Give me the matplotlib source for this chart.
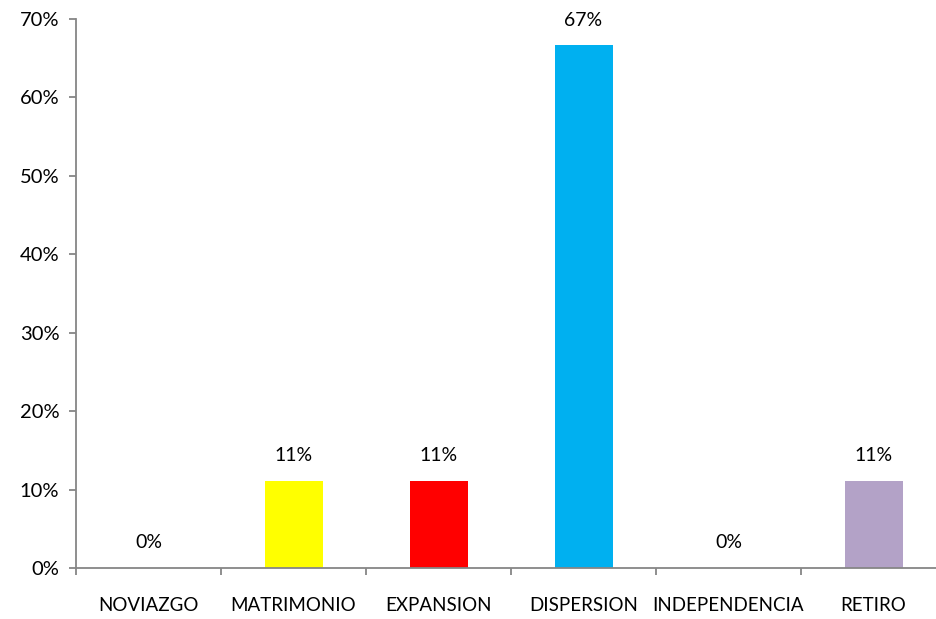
import matplotlib
matplotlib.use("Agg")
import matplotlib.pyplot as plt
import numpy as np

categories = ["NOVIAZGO", "MATRIMONIO", "EXPANSION", "DISPERSION", "INDEPENDENCIA", "RETIRO"]
shares = [0.0, 1/9, 1/9, 6/9, 0.0, 1/9]
colors = ["#4F81BD", "#FFFF00", "#FF0000", "#00B0F0", "#8064A2", "#B3A2C7"]
y_ticks = [0, 0.1, 0.2, 0.3, 0.4, 0.5, 0.6, 0.7]

plt.rcParams["font.family"] = ["Lato", "DejaVu Sans"]

fig = plt.figure(figsize=(9.36, 6.19), dpi=100)
ax = fig.add_axes([76/936, 1 - 568/619, (946 - 76)/936, (568 - 19)/619])

x = np.arange(len(categories))
ax.bar(x, shares, width=0.4, color=colors, zorder=2)

for xi, v in zip(x, shares):
    ax.annotate(f"{v*100:.0f}%", (xi, v), xytext=(0, 18), textcoords="offset points",
                ha="center", va="center", fontsize=14, color="black")

ax.set_xlim(-0.5, len(categories) - 0.5)
ax.set_ylim(0, 0.7)
ax.set_yticks(y_ticks)
ax.set_yticklabels([f"{t*100:.0f}%" for t in y_ticks], fontsize=14.5)

ax.set_xticks(x)
ax.set_xticklabels(categories, fontsize=13.5)
ax.set_xticks(np.arange(len(categories) + 1) - 0.5, minor=True)
ax.tick_params(axis="x", which="major", length=0, pad=21)
ax.tick_params(axis="x", which="minor", length=5, width=1.3, color="#868686")
ax.tick_params(axis="y", length=5, width=1.3, color="#868686", pad=7)

for side in ["top", "right"]:
    ax.spines[side].set_visible(False)
for side in ["left", "bottom"]:
    ax.spines[side].set_color("#868686")
    ax.spines[side].set_linewidth(1.3)

fig.savefig("out.png", dpi=100)
